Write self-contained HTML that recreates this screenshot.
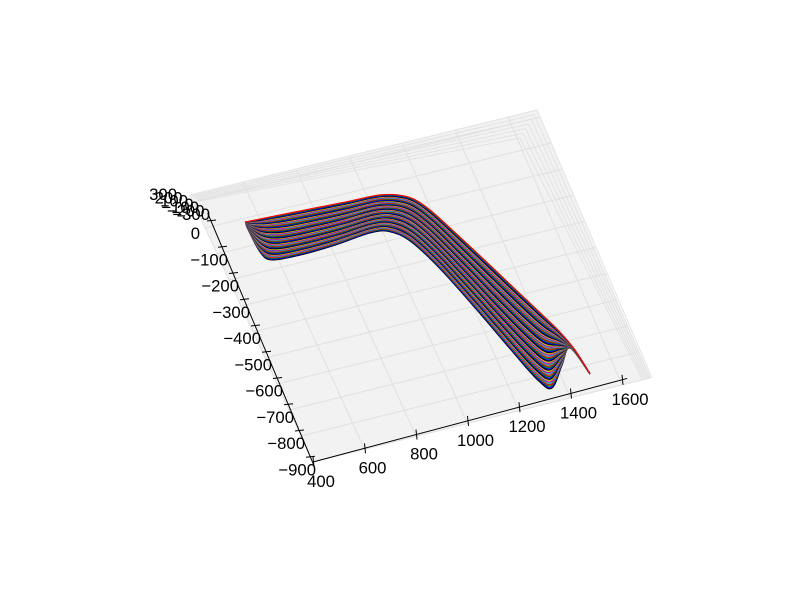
<!DOCTYPE html>
<html><head><meta charset="utf-8"><style>
html,body{margin:0;padding:0;background:#fff;}
svg text{font-family:"Liberation Sans",sans-serif;font-size:16.7px;fill:#000;}
</style></head><body>
<svg id="chart" width="800" height="600" viewBox="0 0 800 600" xmlns="http://www.w3.org/2000/svg">
<g id="panes"></g>
<g id="grid"></g>
<g id="lines"></g>
<g id="axes"></g>
</svg>
<script>
const xTicks = [400, 600, 800, 1000, 1200, 1400, 1600];
const yTicks = [0, -100, -200, -300, -400, -500, -600, -700, -800, -900];
const zTickLabels = ["300", "200", "100", "0", "\u2212100", "\u2212200", "\u2212300"];
const topX = [501,577,672,786,899,1004,1074,1126,1170,1226,1290,1354,1407,1450,1477,1496];
const topY = [-4,-8,-14,-21,-28,-33,-50,-80,-138,-240,-362,-487,-590,-677,-753,-850];
const botX = [501,512,542,648,785,924,994,1056,1121,1198,1262,1306,1343,1411,1463,1496];
const botY = [-23,-122,-160,-169,-167,-157,-170,-225,-350,-544,-718,-826,-864,-793,-741,-850];
const mix = [1,0.983,0.966,0.949,0.932,0.915,0.898,0.881,0.864,0.847,0.83,0.813,0.796,0.779,0.762,0.745,0.728,0.711,0.694,0.677,0.66,0.643,0.626,0.609,0.592,0.575,0.558,0.541,0.524,0.507,0.49,0.473,0.456,0.439,0.422,0.405,0.388,0.371,0.354,0.337,0.32,0.303,0.286,0.269,0.252,0.235,0.218,0.201,0.184,0.167,0.15,0.133,0.116,0.099,0.082,0.065,0.048,0.031,0.014,0];
const colors = ["#0000ff","#008000","#ff0000","#00bfbf","#bf00bf","#bfbf00","#000000"];

const NS = "http://www.w3.org/2000/svg";
function mk(tag, attrs, parent){const e=document.createElementNS(NS,tag);for(const k in attrs)e.setAttribute(k,attrs[k]);parent.appendChild(e);return e;}
function S(x,y){const a=x-400,d=y+900;return [313+a*0.2575-d*0.105, 462-a*0.0685-d*0.26];}
const C00=[313,462],C10=[650,378],C01=[190,195],C11=[537,110];
function B(u,v){return [C00[0]*(1-u)*(1-v)+C10[0]*u*(1-v)+C01[0]*(1-u)*v+C11[0]*u*v, C00[1]*(1-u)*(1-v)+C10[1]*u*(1-v)+C01[1]*(1-u)*v+C11[1]*u*v];}
const panes=document.getElementById('panes'),grid=document.getElementById('grid'),lines=document.getElementById('lines'),axes=document.getElementById('axes');

let p=mk('polygon',{points:[C00,C10,C11,C01].map(q=>q.join(',')).join(' '),fill:'#f2f2f2',stroke:'none'},panes);


for(let i=0;i<7;i++){
  const t=i/6;
  let l=mk('line',{x1:537-17*t,y1:110+28*t,x2:652-10*t,y2:378+1*t,stroke:'#e2e2e2','stroke-width':1},grid);
  
  
  let l2=mk('line',{x1:190+10*t,y1:195+6*t,x2:537-17*t,y2:110+28*t,stroke:'#e2e2e2','stroke-width':1},grid);
  
  
}
xTicks.forEach(x=>{const u=(x-400)/1309;const a=B(u,0),b=B(u,1);
  let l=mk('line',{x1:a[0],y1:a[1],x2:b[0],y2:b[1],stroke:'#e0e0e0','stroke-width':1},grid);
  
  });
yTicks.concat([100]).forEach(y=>{const v=(y+900)/1027;const a=B(0,v),b=B(1,v);
  let l=mk('line',{x1:a[0],y1:a[1],x2:b[0],y2:b[1],stroke:'#e0e0e0','stroke-width':1},grid);
  
  });

function smooth(pts){let d='M'+pts[0][0].toFixed(1)+','+pts[0][1].toFixed(1);
  for(let i=0;i<pts.length-1;i++){const p0=pts[Math.max(0,i-1)],p1=pts[i],p2=pts[i+1],p3=pts[Math.min(pts.length-1,i+2)];
    const c1=[p1[0]+(p2[0]-p0[0])/6,p1[1]+(p2[1]-p0[1])/6],c2=[p2[0]-(p3[0]-p1[0])/6,p2[1]-(p3[1]-p1[1])/6];
    d+=' C'+c1.map(v=>v.toFixed(1))+' '+c2.map(v=>v.toFixed(1))+' '+p2.map(v=>v.toFixed(1));}
  return d;}
const N=mix.length;
mix.forEach((m,i)=>{
  const pts=topX.map((_,k)=>S(topX[k]*(1-m)+botX[k]*m, topY[k]*(1-m)+botY[k]*m));
  const ci=((i-(N-1))%7+7+2)%7;
  let path=mk('path',{d:smooth(pts),fill:'none',stroke:colors[ci],'stroke-width':1.2},lines);
  
  
});

const xa0=S(400,-900),xa1=S(1620,-900);
let xl=mk('line',{x1:xa0[0],y1:xa0[1],x2:xa1[0],y2:xa1[1],stroke:'#000','stroke-width':1},axes);


xTicks.forEach(x=>{const q=S(x,-900);
  let t=mk('line',{x1:q[0],y1:q[1]-5,x2:q[0]+1,y2:q[1]+5,stroke:'#000','stroke-width':1},axes);
  
  
  let tx=mk('text',{x:q[0]+8,y:q[1]+25,'text-anchor':'middle'},axes);tx.textContent=String(x);
  
  });
function YT(y){const k=-y/100;return [211+11*k,221+26.25*k];}
const ya0=YT(30),ya1=YT(-910);
let yl=mk('line',{x1:ya0[0],y1:ya0[1],x2:ya1[0]+3,y2:ya1[1]+6,stroke:'#000','stroke-width':1},axes);


yTicks.forEach(y=>{const q=YT(y);
  let t=mk('line',{x1:q[0]-4,y1:q[1],x2:q[0]+5,y2:q[1]-1,stroke:'#000','stroke-width':1},axes);
  
  
  let tx=mk('text',{x:y===0?q[0]-11:q[0]+6,y:q[1]+18,'text-anchor':'end'},axes);tx.textContent=(y<0?'\u2212':'')+Math.abs(y);
  
  });
zTickLabels.forEach((s,i)=>{
  let tx=mk('text',{x:177+5.5*i,y:200+3.3*i,'text-anchor':'end'},axes);tx.textContent=s;
  
  });
</script>
</body></html>
